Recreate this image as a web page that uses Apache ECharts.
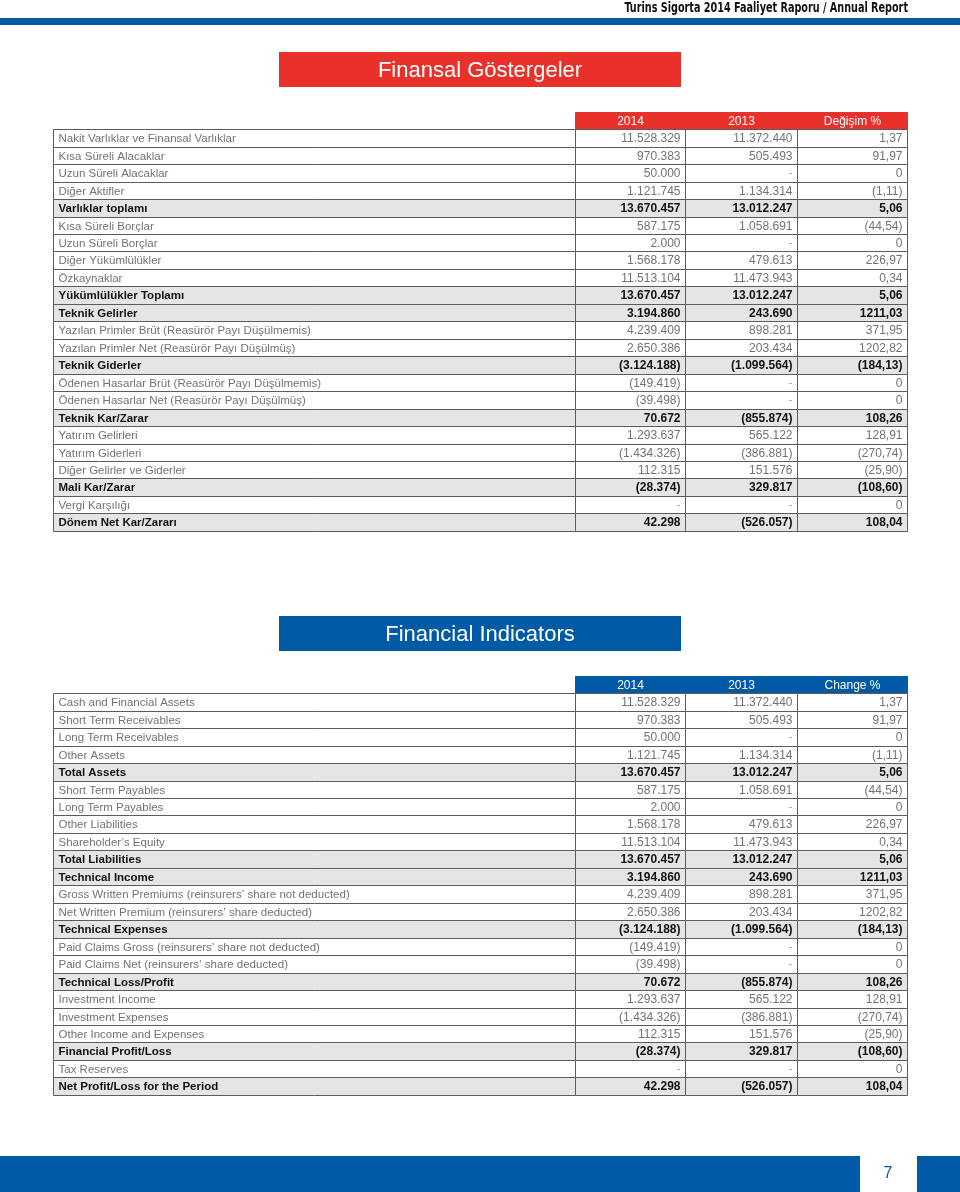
<!DOCTYPE html>
<html>
<head>
<meta charset="utf-8">
<script src="https://cdn.jsdelivr.net/npm/echarts@6/dist/echarts.min.js"></script>
<style>
html,body{margin:0;padding:0;background:#fff;}
#chart{width:960px;height:1192px;}
</style>
</head>
<body>
<div id="chart"></div>
<script>
// ---------- DATA ----------
const labelsTR = [
  'Nakit Varlıklar ve Finansal Varlıklar',
  'Kısa Süreli Alacaklar',
  'Uzun Süreli Alacaklar',
  'Diğer Aktifler',
  'Varlıklar toplamı',
  'Kısa Süreli Borçlar',
  'Uzun Süreli Borçlar',
  'Diğer Yükümlülükler',
  'Özkaynaklar',
  'Yükümlülükler Toplamı',
  'Teknik Gelirler',
  'Yazılan Primler Brüt (Reasürör Payı Düşülmemis)',
  'Yazılan Primler Net (Reasürör Payı Düşülmüş)',
  'Teknik Giderler',
  'Ödenen Hasarlar Brüt (Reasürör Payı Düşülmemis)',
  'Ödenen Hasarlar Net (Reasürör Payı Düşülmüş)',
  'Teknik Kar/Zarar',
  'Yatırım Gelirleri',
  'Yatırım Giderleri',
  'Diğer Gelirler ve Giderler',
  'Mali Kar/Zarar',
  'Vergi Karşılığı',
  'Dönem Net Kar/Zararı'
];
const labelsEN = [
  'Cash and Financial Assets',
  'Short Term Receivables',
  'Long Term Receivables',
  'Other Assets',
  'Total Assets',
  'Short Term Payables',
  'Long Term Payables',
  'Other Liabilities',
  'Shareholder’s Equity',
  'Total Liabilities',
  'Technical Income',
  'Gross Written Premiums (reinsurers’ share not deducted)',
  'Net Written Premium (reinsurers’ share deducted)',
  'Technical Expenses',
  'Paid Claims Gross (reinsurers’ share not deducted)',
  'Paid Claims Net (reinsurers’ share deducted)',
  'Technical Loss/Profit',
  'Investment Income',
  'Investment Expenses',
  'Other Income and Expenses',
  'Financial Profit/Loss',
  'Tax Reserves',
  'Net Profit/Loss for the Period'
];
const values2014 = [11528329, 970383, 50000, 1121745, 13670457, 587175, 2000, 1568178, 11513104, 13670457,
  3194860, 4239409, 2650386, -3124188, -149419, -39498, 70672, 1293637, -1434326, 112315, -28374, null, 42298];
const values2013 = [11372440, 505493, null, 1134314, 13012247, 1058691, null, 479613, 11473943, 13012247,
  243690, 898281, 203434, -1099564, null, null, -855874, 565122, -386881, 151576, 329817, null, -526057];
const changePct = [1.37, 91.97, 0, -1.11, 5.06, -44.54, 0, 226.97, 0.34, 5.06,
  1211.03, 371.95, 1202.82, -184.13, 0, 0, 108.26, 128.91, -270.74, -25.90, -108.60, 0, 108.04];
const totalRows = [4, 9, 10, 13, 16, 20, 22];
const headersTR = ['2014', '2013', 'Değişim %'];
const headersEN = ['2014', '2013', 'Change %'];

// ---------- LAYOUT (not data) ----------
const colEdges = [0, 522, 632, 744, 854];
const RED = '#e8312a', BLUE = '#005aa6';
const FONT = '"Liberation Sans", Arial, Helvetica, sans-serif';

function fmtInt(v) {
  if (v === null) return '-';
  const s = Math.abs(v).toString().replace(/\B(?=(\d{3})+(?!\d))/g, '.');
  return v < 0 ? '(' + s + ')' : s;
}
function fmtPct(v) {
  if (v === 0) return '0';
  const s = Math.abs(v).toFixed(2).replace('.', ',');
  return v < 0 ? '(' + s + ')' : s;
}

function buildCells() {
  const cells = [];
  for (let c = 1; c < 4; c++) cells.push([colEdges[c], 0, colEdges[c + 1], c]);
  for (let r = 0; r < labelsTR.length; r++) {
    for (let c = 0; c < 4; c++) cells.push([colEdges[c], r + 1, colEdges[c + 1], c]);
  }
  return cells;
}
const rowKeys = ['h'].concat(labelsTR.map((_, i) => 'r' + i));

function makeRender(labels, headers, headColor) {
  return function (params, api) {
    const x0 = api.value(0), r = api.value(1), x1 = api.value(2), c = api.value(3);
    const p0 = api.coord([x0, r]);
    const p1 = api.coord([x1, r]);
    const h = api.size([0, 1])[1];
    const left = Math.round(p0[0]) + 0.5;
    const right = Math.round(p1[0]) + 0.5;
    const top = Math.round(p0[1] - h / 2) + 0.5;
    const bottom = Math.round(p0[1] + h / 2) + 0.5;
    const cy = (top + bottom) / 2;
    let fill, stroke, text, color, weight, align, tx, size = 12;
    if (r === 0) {
      fill = headColor; stroke = headColor; text = headers[c - 1];
      color = '#ffffff'; weight = 'normal'; align = 'center'; tx = (left + right) / 2;
    } else {
      const i = r - 1;
      const bold = totalRows.indexOf(i) >= 0;
      fill = bold ? '#e4e5e7' : '#ffffff';
      stroke = '#5c5c5c';
      color = bold ? '#111111' : '#737373';
      weight = bold ? 'bold' : 'normal';
      if (c === 0) { text = labels[i]; align = 'left'; tx = left + 5; size = 11.5; }
      else {
        text = c === 1 ? fmtInt(values2014[i]) : c === 2 ? fmtInt(values2013[i]) : fmtPct(changePct[i]);
        align = 'right'; tx = right - 5;
        if (text === '-') color = '#aaaaaa';
      }
    }
    return {
      type: 'group',
      children: [
        { type: 'rect', shape: { x: left, y: top, width: right - left, height: bottom - top },
          style: { fill: fill, stroke: stroke, lineWidth: 1 } },
        { type: 'text', style: { text: text, x: tx, y: cy + 0.5, align: align, verticalAlign: 'middle',
          fill: color, fontSize: size, fontWeight: weight, fontFamily: FONT } }
      ]
    };
  };
}

const chart = echarts.init(document.getElementById('chart'), null, { renderer: 'canvas' });
const cells = buildCells();
const option = {
  animation: false,
  backgroundColor: '#ffffff',
  grid: [
    { left: 53, top: 111.8, width: 854, height: 419 },
    { left: 53, top: 675.8, width: 854, height: 419 }
  ],
  xAxis: [
    { gridIndex: 0, type: 'value', min: 0, max: 854, show: false },
    { gridIndex: 1, type: 'value', min: 0, max: 854, show: false }
  ],
  yAxis: [
    { gridIndex: 0, type: 'category', data: rowKeys, inverse: true, show: false },
    { gridIndex: 1, type: 'category', data: rowKeys, inverse: true, show: false }
  ],
  series: [
    { type: 'custom', xAxisIndex: 0, yAxisIndex: 0, data: cells, renderItem: makeRender(labelsTR, headersTR, RED) },
    { type: 'custom', xAxisIndex: 1, yAxisIndex: 1, data: cells, renderItem: makeRender(labelsEN, headersEN, BLUE) }
  ],
  graphic: [
    { type: 'text', x: 908, y: 8.5, scaleX: 0.74, style: { text: 'Turins Sigorta 2014 Faaliyet Raporu / Annual Report',
      fill: '#111', fontSize: 14.5, fontWeight: 'bold', align: 'right', verticalAlign: 'middle',
      fontFamily: '"DejaVu Sans Condensed", "DejaVu Sans", sans-serif' } },
    { type: 'rect', shape: { x: 0, y: 18, width: 960, height: 7 }, style: { fill: BLUE } },
    { type: 'rect', shape: { x: 279, y: 52, width: 402, height: 35 }, style: { fill: RED } },
    { type: 'text', x: 480, y: 70.5, style: { text: 'Finansal Göstergeler', fill: '#fff', fontSize: 22,
      fontFamily: FONT, align: 'center', verticalAlign: 'middle' } },
    { type: 'rect', shape: { x: 279, y: 616, width: 402, height: 35 }, style: { fill: BLUE } },
    { type: 'text', x: 480, y: 634.5, style: { text: 'Financial Indicators', fill: '#fff', fontSize: 22,
      fontFamily: FONT, align: 'center', verticalAlign: 'middle' } },
    { type: 'rect', shape: { x: 0, y: 1156, width: 860, height: 36 }, style: { fill: BLUE } },
    { type: 'rect', shape: { x: 917, y: 1156, width: 43, height: 36 }, style: { fill: BLUE } },
    { type: 'text', x: 888, y: 1174, style: { text: '7', fill: BLUE, fontSize: 16, fontFamily: FONT,
      align: 'center', verticalAlign: 'middle' } }
  ]
};
chart.setOption(option);
</script>
</body>
</html>
